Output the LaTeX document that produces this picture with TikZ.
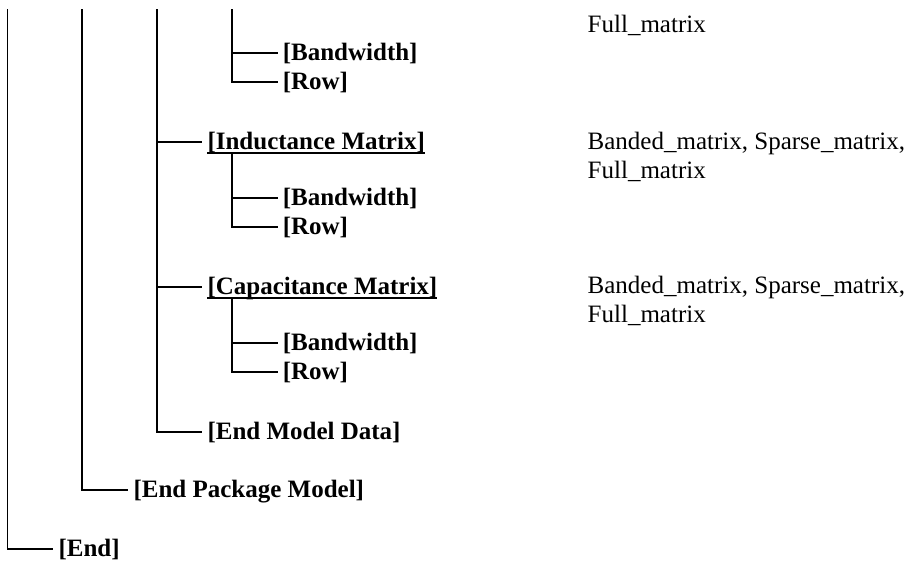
\documentclass[tikz,border=0pt]{standalone}
\usepackage{fontspec}
\setmainfont{Liberation Serif}
\begin{document}
\begin{tikzpicture}[x=1pt,y=-1pt]
        \tikzstyle{twig} = [line width=1.8pt, shorten >=5pt]
        \tikzstyle{uline} = [line width=1.6pt]
        \tikzstyle{kw} = [inner sep=0pt, anchor=west, font=\fontsize{25}{29}\selectfont\bfseries, text height=17.5pt, text depth=2.5pt]
        \tikzstyle{vals} = [inner sep=0pt, anchor=base west, align=left, font=\fontsize{25}{29}\selectfont]
        \useasboundingbox (0,0) rectangle (914,562);
        \coordinate (top1) at (7.5,9);
        \coordinate (top2) at (82.3,9);
        \coordinate (top3) at (157.3,9);
        \coordinate (top4) at (232.3,9);
        \node (bwa) [kw] at (282.6,53) {[Bandwidth]};
        \node (rowa) [kw] at (282.6,82) {[Row]};
        \node (ind) [kw] at (207.3,141.7) {[Inductance Matrix]};
        \node (bwb) [kw] at (282.6,198) {[Bandwidth]};
        \node (rowb) [kw] at (282.6,226.7) {[Row]};
        \node (cap) [kw] at (207.3,286.7) {[Capacitance Matrix]};
        \node (bwc) [kw] at (282.6,343) {[Bandwidth]};
        \node (rowc) [kw] at (282.6,372) {[Row]};
        \node (emd) [kw] at (207.3,432) {[End Model Data]};
        \node (epm) [kw] at (133.3,490) {[End Package Model]};
        \node (end) [kw] at (58.3,549) {[End]};
        \node (fma) [vals] at (587.5,32) {Full\_matrix};
        \node (vind) [vals] at (587.5,178) {Banded\_matrix, Sparse\_matrix,\\Full\_matrix};
        \node (vcap) [vals] at (587.5,322.5) {Banded\_matrix, Sparse\_matrix,\\Full\_matrix};

        \draw [twig] (top1) |- (end);
        \draw [twig] (top2) |- (epm);
        \draw [twig] (top3) |- (ind);
        \draw [twig] (top3) |- (cap);
        \draw [twig] (top3) |- (emd);
        \draw [twig] (top4) |- (bwa);
        \draw [twig] (top4) |- (rowa);
        \draw [twig] ([xshift=25pt,yshift=-5pt]ind.base west) |- (bwb);
        \draw [twig] ([xshift=25pt,yshift=-5pt]ind.base west) |- (rowb);
        \draw [twig] ([xshift=25pt,yshift=-5pt]cap.base west) |- (bwc);
        \draw [twig] ([xshift=25pt,yshift=-5pt]cap.base west) |- (rowc);
        \draw [uline] ([yshift=-3.5pt]ind.base west) -- ([yshift=-3.5pt]ind.base east);
        \draw [uline] ([yshift=-3.5pt]cap.base west) -- ([yshift=-3.5pt]cap.base east);

    \end{tikzpicture}
\end{document}
